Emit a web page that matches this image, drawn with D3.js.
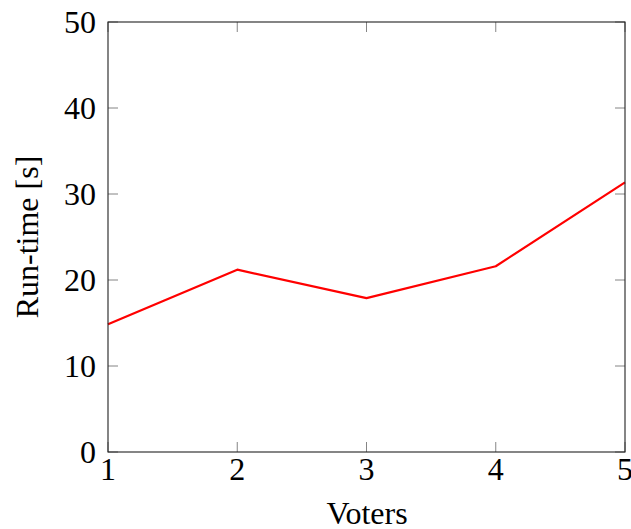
<!DOCTYPE html>
<html><head><meta charset="utf-8">
<script src="https://cdn.jsdelivr.net/npm/d3@7"></script>
<style>body{margin:0;background:#fff}svg{display:block}</style>
</head><body>
<svg id="c" width="631" height="529"></svg>
<script>
const voters = [1, 2, 3, 4, 5];
const runtime = [14.85, 21.2, 17.9, 21.6, 31.35];
const xTicks = [1, 2, 3, 4, 5];
const yTicks = [0, 10, 20, 30, 40, 50];

const svg = d3.select("#c");
const m = {l:108, r:625, t:22, b:452};
const x = d3.scaleLinear().domain([1,5]).range([m.l, m.r]);
const y = d3.scaleLinear().domain([0,50]).range([m.b, m.t]);
const font = "'Liberation Serif', 'DejaVu Serif', serif";
const fs = 32, tl = 10;

const g = svg.append("g");
const tickColor = "#777";
g.selectAll(".xt").data(xTicks).join("line")
  .attr("x1", d=>x(d)).attr("x2", d=>x(d)).attr("y1", m.b).attr("y2", m.b-tl)
  .attr("stroke", tickColor).attr("stroke-width", 0.9);
g.selectAll(".xt2").data(xTicks).join("line")
  .attr("x1", d=>x(d)).attr("x2", d=>x(d)).attr("y1", m.t).attr("y2", m.t+tl)
  .attr("stroke", tickColor).attr("stroke-width", 0.9);
g.selectAll(".yt").data(yTicks).join("line")
  .attr("x1", m.l).attr("x2", m.l+tl).attr("y1", d=>y(d)).attr("y2", d=>y(d))
  .attr("stroke", tickColor).attr("stroke-width", 0.9);
g.selectAll(".yt2").data(yTicks).join("line")
  .attr("x1", m.r).attr("x2", m.r-tl).attr("y1", d=>y(d)).attr("y2", d=>y(d))
  .attr("stroke", tickColor).attr("stroke-width", 0.9);

const line = d3.line().x((d,i)=>x(voters[i])).y(d=>y(d));
g.append("path").datum(runtime).attr("d", line)
  .attr("fill","none").attr("stroke","#ff0000").attr("stroke-width",2.2)
  .attr("stroke-linejoin","round");

g.append("rect").attr("x", m.l).attr("y", m.t).attr("width", m.r-m.l).attr("height", m.b-m.t)
  .attr("fill","none").attr("stroke","#222").attr("stroke-width",1.1);

g.selectAll(".xl").data(xTicks).join("text")
  .attr("x", d=>x(d)).attr("y", m.b+28).attr("text-anchor","middle")
  .attr("font-family", font).attr("font-size", fs).text(d=>d);
g.selectAll(".yl").data(yTicks).join("text")
  .attr("x", m.l-12).attr("y", d=>y(d)+11).attr("text-anchor","end")
  .attr("font-family", font).attr("font-size", fs).text(d=>d);

svg.append("text").attr("x", 367).attr("y", 524).attr("text-anchor","middle")
  .attr("font-family", font).attr("font-size", fs).text("Voters");
svg.append("text").attr("transform", `translate(38,${(m.t+m.b)/2}) rotate(-90)`)
  .attr("text-anchor","middle").attr("font-family", font).attr("font-size", fs).text("Run-time [s]");
</script>
</body></html>
